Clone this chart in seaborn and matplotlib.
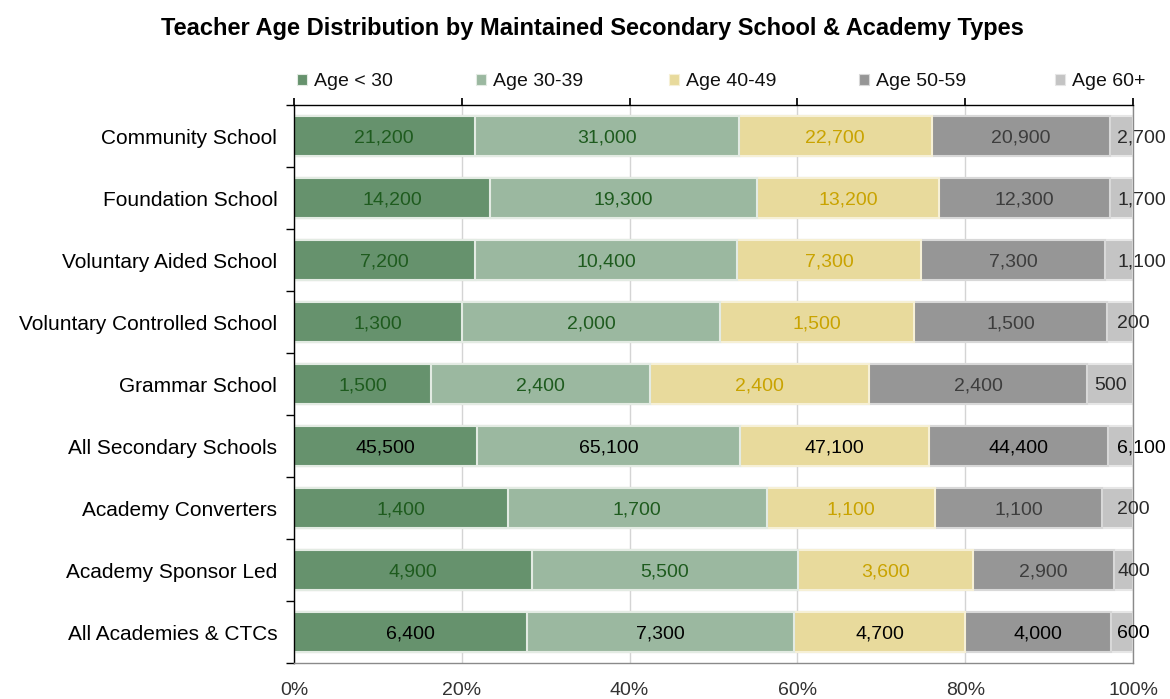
import numpy as np
import pandas as pd
import matplotlib
matplotlib.use("Agg")
import matplotlib.pyplot as plt
from matplotlib.patches import Patch
import seaborn as sns

# ---- data -------------------------------------------------------------
categories = [
    "Community School",
    "Foundation School",
    "Voluntary Aided School",
    "Voluntary Controlled School",
    "Grammar School",
    "All Secondary Schools",
    "Academy Converters",
    "Academy Sponsor Led",
    "All Academies & CTCs",
]
age_under_30 = [21200, 14200, 7200, 1300, 1500, 45500, 1400, 4900, 6400]
age_30_39 = [31000, 19300, 10400, 2000, 2400, 65100, 1700, 5500, 7300]
age_40_49 = [22700, 13200, 7300, 1500, 2400, 47100, 1100, 3600, 4700]
age_50_59 = [20900, 12300, 7300, 1500, 2400, 44400, 1100, 2900, 4000]
age_60_plus = [2700, 1700, 1100, 200, 500, 6100, 200, 400, 600]

series_names = ["Age < 30", "Age 30-39", "Age 40-49", "Age 50-59", "Age 60+"]
series_values = [age_under_30, age_30_39, age_40_49, age_50_59, age_60_plus]
total_rows = ["All Secondary Schools", "All Academies & CTCs"]
x_ticks = [0, 20, 40, 60, 80, 100]

# ---- styling ----------------------------------------------------------
bar_colors = ["#66926d", "#9bb8a0", "#e8da9c", "#969696", "#c4c4c4"]
edge_colors = ["#e3ebe3", "#e3ebe3", "#f6f0d6", "#d8d8d8", "#e6e6e6"]
label_colors = ["#1e5b1e", "#1e5b1e", "#c9a300", "#3d3d3d", "#2a2a2a"]

sns.set_theme(style="white")
plt.rcParams["font.family"] = ["Liberation Sans", "DejaVu Sans"]

df = pd.DataFrame({"category": categories})
for name, vals in zip(series_names, series_values):
    df[name] = vals
totals = df[series_names].sum(axis=1)
shares = df[series_names].div(totals, axis=0) * 100
cum = shares.cumsum(axis=1)

fig = plt.figure(figsize=(11.7, 6.99), dpi=100)
ax = fig.add_axes([294 / 1170, 1 - 663 / 699, (1133 - 294) / 1170, (663 - 105) / 699])

# stacked bars: draw cumulative totals from the widest down
for i in range(len(series_names) - 1, -1, -1):
    sns.barplot(
        x=cum[series_names[i]].values,
        y=df["category"],
        order=categories,
        orient="h",
        color=bar_colors[i],
        saturation=1,
        width=0.65,
        edgecolor=edge_colors[i],
        linewidth=1.5,
        ax=ax,
    )

# segment value labels
for r, cat in enumerate(categories):
    left = 0.0
    for i, name in enumerate(series_names):
        w = shares.loc[r, name]
        val = df.loc[r, name]
        color = "#000000" if cat in total_rows else label_colors[i]
        text = f"{val:,}"
        if i == len(series_names) - 1 and w < 4.5:
            ax.text(max(left + 0.5, 98.1), r, text, ha="left", va="center_baseline",
                    fontsize=14, color=color, clip_on=False)
        else:
            ax.text(left + w / 2, r, text, ha="center", va="center_baseline",
                    fontsize=14, color=color)
        left += w

# axes
ax.set_xlim(0, 100)
ax.set_xticks(x_ticks)
ax.set_xticklabels([f"{t}%" for t in x_ticks])
ax.set_xlabel("")
ax.set_ylabel("")
ax.set_axisbelow(True)
ax.xaxis.grid(True, color="#d4d4d4", linewidth=1)
ax.yaxis.grid(False)

ax.tick_params(axis="x", which="major", top=True, bottom=False, labeltop=False,
               labelbottom=True, direction="out", length=5, color="black",
               labelsize=14, labelcolor="#333333", pad=9)
ax.tick_params(axis="y", which="major", length=0, pad=12, labelsize=15,
               labelcolor="#000000")
ax.set_yticks(np.arange(-0.5, len(categories), 1), minor=True)
ax.tick_params(axis="y", which="minor", left=True, length=6, color="black",
               direction="out", width=1)

for side in ["left", "top"]:
    ax.spines[side].set_visible(True)
    ax.spines[side].set_color("black")
    ax.spines[side].set_linewidth(1)
for side in ["right", "bottom"]:
    ax.spines[side].set_visible(True)
    ax.spines[side].set_color("#8a8a8a")
    ax.spines[side].set_linewidth(1)

# title
fig.text(592 / 1170, 1 - 28 / 699,
         "Teacher Age Distribution by Maintained Secondary School & Academy Types",
         ha="center", va="center", fontsize=17, fontweight="bold", color="#000000")

# legend, one entry per slot across the top
legend_x = [297, 476, 669, 859, 1055]
for i, name in enumerate(series_names):
    leg = fig.legend(
        handles=[Patch(facecolor=bar_colors[i], edgecolor=edge_colors[i], linewidth=0.8)],
        labels=[name],
        loc="center left",
        bbox_to_anchor=(legend_x[i] / 1170, 1 - 82 / 699),
        frameon=False,
        fontsize=14,
        handlelength=0.5,
        handleheight=0.5,
        handletextpad=0.35,
        borderpad=0,
        borderaxespad=0,
    )
    for t in leg.get_texts():
        t.set_color("#111111")

fig.savefig("out.png", dpi=100)
